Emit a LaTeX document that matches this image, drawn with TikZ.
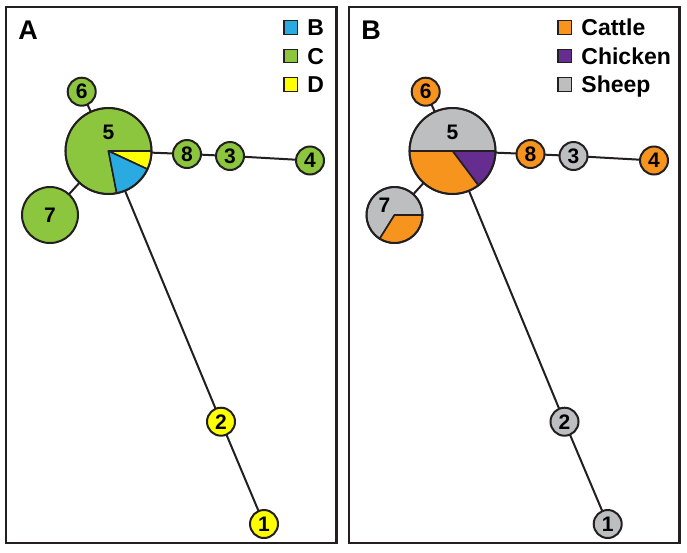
\documentclass[tikz,border=0pt]{standalone}
\usepackage{fontspec}
\setmainfont{Liberation Sans}
\usetikzlibrary{backgrounds}
\definecolor{cB}{HTML}{29ABE2}
\definecolor{cC}{HTML}{8CC63F}
\definecolor{cD}{HTML}{FFFF00}
\definecolor{cOr}{HTML}{F7941E}
\definecolor{cPu}{HTML}{662D91}
\definecolor{cGr}{HTML}{BCBEC0}
\definecolor{edge}{HTML}{231F20}
\begin{document}
\begin{tikzpicture}[x=1pt,y=-1pt,
  numfont/.style={font=\bfseries\fontsize{21}{21}\selectfont},
  hap/.style={circle,draw=edge,line width=2pt,inner sep=0pt,minimum size=28pt,numfont},
  bighap/.style={hap,minimum size=86pt},
  midhap/.style={hap,minimum size=56pt},
  link/.style={draw=edge,line width=2pt},
  slice/.style={draw=edge,line width=1.6pt,line join=round},
  panel/.style={draw=edge,line width=2.2pt},
  paneltitle/.style={font=\bfseries\fontsize{27}{27}\selectfont,inner sep=0pt},
  legsq/.style={draw=edge,line width=1.3pt,minimum size=13.5pt,inner sep=0pt},
  legtext/.style={font=\bfseries\fontsize{23}{23}\selectfont,anchor=west,inner sep=0pt,text depth=0pt}
]
\useasboundingbox (0,0) rectangle (687,552);

% ---------- frames ----------
\draw[panel] (6,7) rectangle (336.5,543);
\draw[panel] (349,7) rectangle (679.5,543);
\node[paneltitle] (tA) at (28,30) {A};
\node[paneltitle] (tB) at (371,30) {B};

% ---------- legend A ----------
\node[legsq,fill=cB] (lB) at (290.8,27.5) {};
\node[legsq,fill=cC] (lC) at (290.8,56) {};
\node[legsq,fill=cD] (lD) at (290.8,84.5) {};
\node[legtext] (lBt) at ([xshift=9pt]lB.east) {B};
\node[legtext] (lCt) at ([xshift=9pt]lC.east) {C};
\node[legtext] (lDt) at ([xshift=9pt]lD.east) {D};

% ---------- legend B ----------
\node[legsq,fill=cOr] (lO) at (564.8,27.5) {};
\node[legsq,fill=cPu] (lP) at (564.8,56) {};
\node[legsq,fill=cGr] (lG) at (564.8,84.5) {};
\node[legtext] (lOt) at ([xshift=9pt]lO.east) {Cattle};
\node[legtext] (lPt) at ([xshift=9pt]lP.east) {Chicken};
\node[legtext] (lGt) at ([xshift=9pt]lG.east) {Sheep};

% ---------- panel A nodes ----------
\node[bighap,label={[numfont,yshift=19pt]center:5}] (a5) at (108.5,151) {};
\node[hap,fill=cC] (a6) at (81.7,91.7) {6};
\node[midhap,fill=cC] (a7) at (50,215) {7};
\node[hap,fill=cC] (a8) at (187,154) {8};
\node[hap,fill=cC] (a3) at (230,156) {3};
\node[hap,fill=cC] (a4) at (310,160.5) {4};
\node[hap,fill=cD] (a2) at (221,421.7) {2};
\node[hap,fill=cD] (a1) at (264,524) {1};

% ---------- panel B nodes ----------
\node[bighap,label={[numfont,yshift=19pt]center:5}] (b5) at (452.5,151) {};
\node[hap,fill=cOr] (b6) at (425.7,91.7) {6};
\node[midhap,label={[numfont,xshift=-10pt,yshift=10pt]center:7}] (b7) at (394.5,215) {};
\node[hap,fill=cOr] (b8) at (530.5,154) {8};
\node[hap,fill=cGr] (b3) at (573.5,156) {3};
\node[hap,fill=cOr] (b4) at (654,160.5) {4};
\node[hap,fill=cGr] (b2) at (564.5,421.7) {2};
\node[hap,fill=cGr] (b1) at (607.7,524) {1};

\begin{scope}[on background layer]
  \fill[white] (0,0) rectangle (687,552);
  % connectors A
  \draw[link] (a5.center) -- (a6.center);
  \draw[link] (a5.center) -- (a7.center);
  \draw[link] (a5.center) -- (a8.center);
  \draw[link] (a8.center) -- (a3.center);
  \draw[link] (a3.center) -- (a4.center);
  \draw[link] (a5.center) -- (a2.center);
  \draw[link] (a2.center) -- (a1.center);
  % connectors B
  \draw[link] (b5.center) -- (b6.center);
  \draw[link] (b5.center) -- (b7.center);
  \draw[link] (b5.center) -- (b8.center);
  \draw[link] (b8.center) -- (b3.center);
  \draw[link] (b3.center) -- (b4.center);
  \draw[link] (b5.center) -- (b2.center);
  \draw[link] (b2.center) -- (b1.center);
  % pie A5
  \filldraw[slice,fill=cC] (a5.center) -- ++(79:43) arc[start angle=79,end angle=360,radius=43] -- cycle;
  \filldraw[slice,fill=cD] (a5.center) -- ++(0:43) arc[start angle=0,end angle=25,radius=43] -- cycle;
  \filldraw[slice,fill=cB] (a5.center) -- ++(25:43) arc[start angle=25,end angle=79,radius=43] -- cycle;
  % pie B5
  \filldraw[slice,fill=cGr] (b5.center) -- ++(-180:43) arc[start angle=-180,end angle=0,radius=43] -- cycle;
  \filldraw[slice,fill=cPu] (b5.center) -- ++(0:43) arc[start angle=0,end angle=53,radius=43] -- cycle;
  \filldraw[slice,fill=cOr] (b5.center) -- ++(53:43) arc[start angle=53,end angle=180,radius=43] -- cycle;
  % pie B7
  \filldraw[slice,fill=cGr] (b7.center) -- ++(122:28) arc[start angle=122,end angle=360,radius=28] -- cycle;
  \filldraw[slice,fill=cOr] (b7.center) -- ++(0:28) arc[start angle=0,end angle=122,radius=28] -- cycle;
\end{scope}
\end{tikzpicture}
\end{document}
